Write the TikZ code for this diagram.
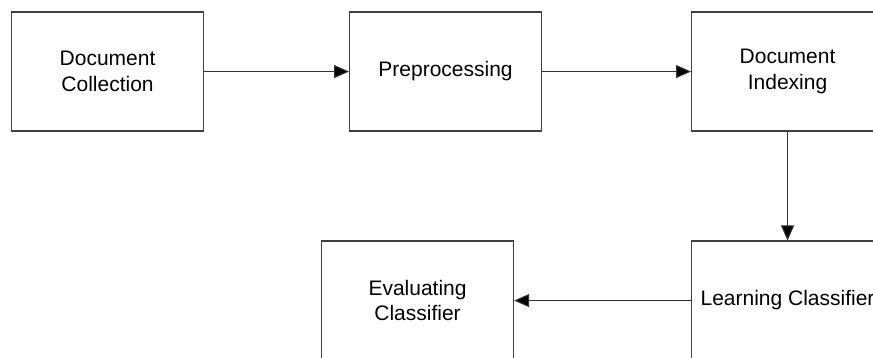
\documentclass[tikz,border=0pt]{standalone}
\usepackage{fontspec}
\setmainfont{Liberation Sans}
\usetikzlibrary{arrows.meta}
\tikzset{
  stage/.style={draw=black!75, line width=1.1pt, fill=white, anchor=north west,
    minimum width=192pt, minimum height=119pt, inner sep=0pt, align=center,
    font=\fontsize{21pt}{25.5pt}\selectfont, text=black},
  flow/.style={draw=black!80, line width=1pt,
    -{Triangle[length=15pt, width=13pt, fill=black]}}
}
\begin{document}
\begin{tikzpicture}[x=1pt, y=-1pt]
  \useasboundingbox (0,0) rectangle (873,358);
  \clip (0,0) rectangle (873,358);
  % processing stages
  \node[stage] (coll) at (11,11.5) {Document\\Collection};
  \node[stage] (prep) at (349,11.5) {Preprocessing};
  \node[stage] (index) at (691,11.5) {Document\\Indexing};
  \node[stage] (learn) at (691,240.5) {Learning Classifier};
  \node[stage] (eval) at (321,240.5) {Evaluating\\Classifier};
  % connectors
  \draw[flow] (coll.east) -- (prep.west);
  \draw[flow] (prep.east) -- (index.west);
  \draw[flow] (index.south) -- (learn.north);
  \draw[flow] (learn.west) -- (eval.east);
\end{tikzpicture}
\end{document}
